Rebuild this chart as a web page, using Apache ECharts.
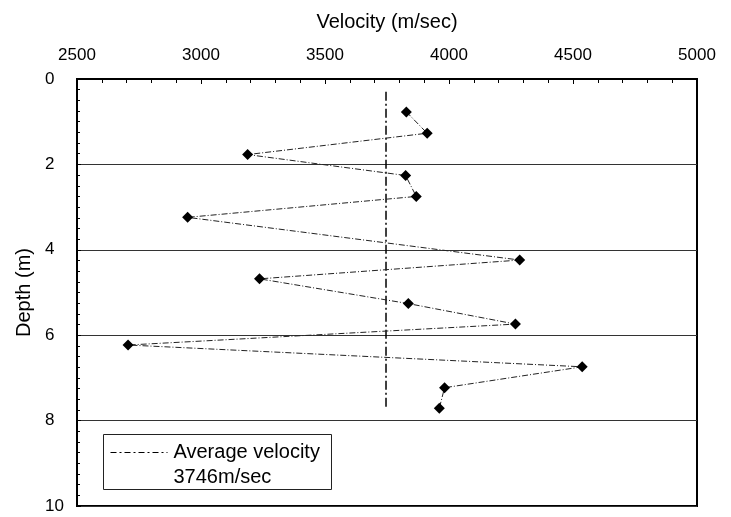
<!DOCTYPE html>
<html>
<head>
<meta charset="utf-8">
<script src="https://cdn.jsdelivr.net/npm/echarts@6/dist/echarts.min.js"></script>
<style>
  html, body { margin: 0; padding: 0; background: #fff; }
  #chart { width: 731px; height: 517px; }
</style>
</head>
<body>
<div id="chart"></div>
<script>
// measured interval velocities vs depth
const depths = [0.77, 1.27, 1.77, 2.26, 2.75, 3.24, 4.24, 4.68, 5.26, 5.74, 6.23, 6.74, 7.23, 7.71];
const velocities = [3828, 3912, 3188, 3825, 3868, 2946, 4285, 3236, 3836, 4268, 2706, 4537, 3982, 3961];

// average velocity reference line
const avgVelocity = 3746;
const avgDepthRange = [0.3, 7.7];

const xTicks = [2500, 5000, 500];   // min, max, interval
const yTicks = [0, 10, 2];

const FONT = '"Liberation Sans", Arial, sans-serif';

const chart = echarts.init(document.getElementById('chart'));

const option = {
  animation: false,
  backgroundColor: '#fff',
  textStyle: { fontFamily: FONT, color: '#000' },
  grid: {
    left: 77,
    right: 34,
    top: 79,
    bottom: 11,
    outerBoundsMode: 'none',
    containLabel: false,
    show: true,
    borderColor: '#000',
    borderWidth: 2,
    backgroundColor: 'transparent'
  },
  xAxis: {
    type: 'value',
    position: 'top',
    min: xTicks[0],
    max: xTicks[1],
    interval: xTicks[2],
    name: 'Velocity (m/sec)',
    nameLocation: 'middle',
    nameGap: 47,
    nameTextStyle: { fontSize: 20, fontFamily: FONT, color: '#000' },
    axisLine: { lineStyle: { color: '#000', width: 2 } },
    axisTick: { inside: true, length: 5, lineStyle: { color: '#000' } },
    minorTick: { show: true, splitNumber: 5, length: 4, lineStyle: { color: '#000' } },
    axisLabel: {
      fontSize: 17, fontFamily: FONT, color: '#000', margin: 15,
      formatter: v => String(v)
    },
    splitLine: { show: false }
  },
  yAxis: {
    type: 'value',
    inverse: true,
    min: yTicks[0],
    max: yTicks[1],
    interval: yTicks[2],
    name: 'Depth (m)',
    nameLocation: 'middle',
    nameRotate: 90,
    nameGap: 43,
    nameTextStyle: { fontSize: 20, fontFamily: FONT, color: '#000' },
    axisLine: { lineStyle: { color: '#000', width: 2 } },
    axisTick: { inside: true, length: 4, lineStyle: { color: '#000' } },
    minorTick: { show: true, splitNumber: 8, length: 3, lineStyle: { color: '#000' } },
    axisLabel: { fontSize: 17, fontFamily: FONT, color: '#000', align: 'left', margin: 32 },
    splitLine: { show: true, lineStyle: { color: '#333', width: 1.2 } }
  },
  series: [
    {
      name: 'Velocity',
      type: 'line',
      data: velocities.map((v, i) => [v, depths[i]]),
      symbol: 'diamond',
      symbolSize: 11,
      itemStyle: { color: '#000' },
      lineStyle: { color: '#222', width: 1, type: [6, 2, 1, 2] },
      z: 3
    },
    {
      name: 'Average velocity',
      type: 'line',
      data: avgDepthRange.map(d => [avgVelocity, d]),
      symbol: 'none',
      lineStyle: { color: '#000', width: 1.5, type: [9, 3, 2, 3] },
      z: 2
    }
  ],
  graphic: [
    {
      type: 'group',
      left: 103,
      top: 434,
      children: [
        {
          type: 'rect',
          shape: { x: 0, y: 0, width: 228, height: 55 },
          style: { fill: '#fff', stroke: '#222', lineWidth: 1 }
        },
        {
          type: 'line',
          shape: { x1: 7, y1: 18, x2: 64, y2: 18 },
          style: { stroke: '#000', lineWidth: 1.2, lineDash: [6, 3, 2, 3] }
        },
        {
          type: 'text',
          x: 70,
          y: 18,
          style: {
            text: 'Average velocity',
            font: '20px ' + FONT,
            fill: '#000',
            verticalAlign: 'middle'
          }
        },
        {
          type: 'text',
          x: 70,
          y: 43,
          style: {
            text: avgVelocity + 'm/sec',
            font: '20px ' + FONT,
            fill: '#000',
            verticalAlign: 'middle'
          }
        }
      ]
    }
  ]
};

chart.setOption(option);
</script>
</body>
</html>
